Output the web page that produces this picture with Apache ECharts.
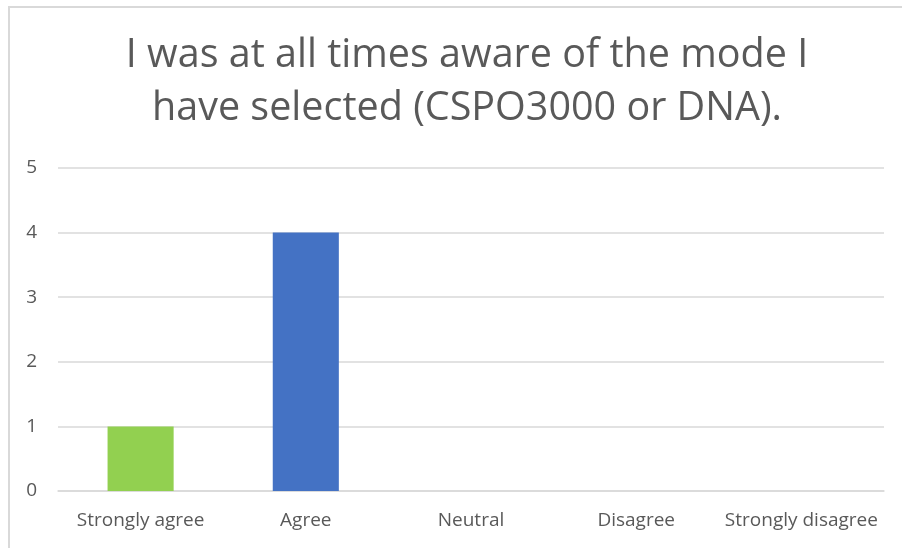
<!DOCTYPE html>
<html>
<head>
<meta charset="utf-8">
<script src="https://cdn.jsdelivr.net/npm/echarts@6/dist/echarts.min.js"></script>
<style>
  html, body { margin: 0; padding: 0; background: #fff; }
  #frame {
    position: absolute; left: 8px; top: 6px; width: 920px; height: 560px;
    border: 2px solid #d9d9d9; box-sizing: border-box;
  }
  #chart { position: absolute; left: 0; top: 0; width: 902px; height: 548px; }
</style>
</head>
<body>
<div id="frame"></div>
<div id="chart"></div>
<script>
const titleText = 'I was at all times aware of the mode I\nhave selected (CSPO3000 or DNA).';
const categories = ['Strongly agree', 'Agree', 'Neutral', 'Disagree', 'Strongly disagree'];
const counts = [1, 4, 0, 0, 0];
const barColors = ['#92d050', '#4472c4', '#4472c4', '#4472c4', '#4472c4'];
const textColor = '#595959';
const fontName = '"Open Sans", "Noto Sans", sans-serif';

const chart = echarts.init(document.getElementById('chart'));
chart.setOption({
    animation: false,
    title: {
        text: titleText,
        left: 462,
        textAlign: 'center',
        top: 24,
        textStyle: {
            color: textColor,
            fontFamily: fontName,
            fontWeight: 'normal',
            fontSize: 39.5,
            lineHeight: 53
        }
    },
    grid: { left: 58, right: 18, top: 168, bottom: 57 },
    xAxis: {
        type: 'category',
        data: categories,
        axisLine: { lineStyle: { color: '#d9d9d9', width: 1.5 } },
        axisTick: { show: false },
        axisLabel: { color: textColor, fontFamily: fontName, fontSize: 19, margin: 20, interval: 0 }
    },
    yAxis: {
        type: 'value',
        min: 0,
        max: 5,
        interval: 1,
        axisLine: { show: false },
        axisTick: { show: false },
        splitLine: { lineStyle: { color: '#d9d9d9', width: 1.5 } },
        axisLabel: { color: textColor, fontFamily: fontName, fontSize: 19, margin: 21 }
    },
    series: [{
        type: 'bar',
        barWidth: '40%',
        data: counts.map((v, i) => ({ value: v, itemStyle: { color: barColors[i] } }))
    }]
});
</script>
</body>
</html>
